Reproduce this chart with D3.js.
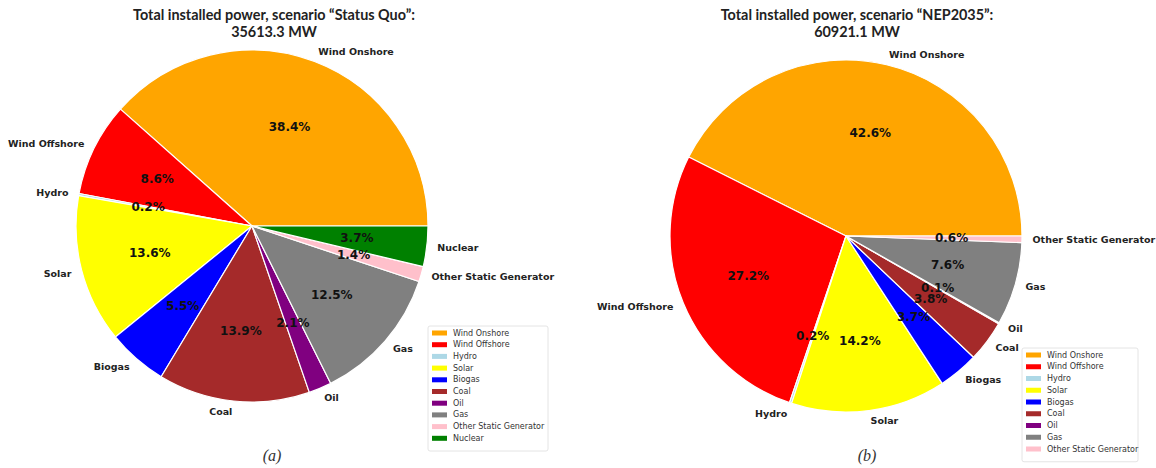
<!DOCTYPE html>
<html>
<head>
<meta charset="utf-8">
<script src="https://cdn.jsdelivr.net/npm/d3@7"></script>
<style>
  html, body { margin: 0; padding: 0; background: #fff; }
  svg { display: block; }
</style>
</head>
<body>
<svg id="chart" width="1156" height="468"></svg>
<script>
// Generation technologies and their colours (shared by both scenarios)
const categories = ["Wind Onshore", "Wind Offshore", "Hydro", "Solar", "Biogas", "Coal", "Oil", "Gas", "Other Static Generator", "Nuclear"];
const colors = ["#FFA500", "#FF0000", "#ADD8E6", "#FFFF00", "#0000FF", "#A52A2A", "#800080", "#808080", "#FFC0CB", "#008000"];

// Share of installed power per technology, in percent
const statusQuoShares = [38.4, 8.6, 0.2, 13.6, 5.5, 13.9, 2.1, 12.5, 1.4, 3.7];
const nep2035Shares   = [42.6, 27.2, 0.2, 14.2, 3.7, 3.8, 0.1, 7.6, 0.6];

// Panel titles and captions
const titlesA = ["Total installed power, scenario \u201CStatus Quo\u201D:", "35613.3 MW"];
const titlesB = ["Total installed power, scenario \u201CNEP2035\u201D:", "60921.1 MW"];
const captions = ["(a)", "(b)"];

const svg = d3.select("#chart");

function drawPanel(opts) {
  const { shares, cx, cy, r, titles, titleX, caption, captionX, legendX, legendY, legendW, legendRowH } = opts;
  const cats = categories.slice(0, shares.length);
  const data = cats.map((c, i) => ({ name: c, value: shares[i], color: colors[i] }));

  const g = svg.append("g");

  // Title (two lines)
  g.selectAll("text.title").data(titles).join("text")
    .attr("class", "title")
    .attr("x", titleX)
    .attr("y", (d, i) => 20 + i * 17)
    .attr("text-anchor", "middle")
    .attr("font-family", "Lato, 'Open Sans', sans-serif")
    .attr("font-weight", "bold")
    .attr("font-size", 14.4)
    .attr("fill", "#222")
    .text(d => d);

  // Counter-clockwise pie starting at 3 o'clock
  const pie = d3.pie().value(d => d.value).sort(null)
    .startAngle(Math.PI / 2).endAngle(Math.PI / 2 - 2 * Math.PI);
  const arcs = pie(data);
  const arc = d3.arc().innerRadius(0).outerRadius(r);
  const labelArc = d3.arc().innerRadius(r * 1.06).outerRadius(r * 1.06);
  const pctArc = d3.arc().innerRadius(r * 0.6).outerRadius(r * 0.6);

  const pg = g.append("g").attr("transform", `translate(${cx},${cy})`);
  pg.selectAll("path").data(arcs).join("path")
    .attr("d", arc)
    .attr("fill", d => d.data.color)
    .attr("stroke", "#fff")
    .attr("stroke-width", 1.2)
    .attr("stroke-linejoin", "round");

  // Category labels outside the pie
  pg.selectAll("text.lbl").data(arcs).join("text")
    .attr("class", "lbl")
    .attr("transform", d => `translate(${labelArc.centroid(d)})`)
    .attr("text-anchor", d => Math.sin((d.startAngle + d.endAngle) / 2) > 0 ? "start" : "end")
    .attr("dominant-baseline", "central")
    .attr("font-family", "'DejaVu Sans', sans-serif")
    .attr("font-weight", "bold")
    .attr("font-size", 9.5)
    .attr("fill", "#222")
    .text(d => d.data.name);

  // Percent labels inside the wedges
  pg.selectAll("text.pct").data(arcs).join("text")
    .attr("class", "pct")
    .attr("transform", d => `translate(${pctArc.centroid(d)})`)
    .attr("text-anchor", "middle")
    .attr("dominant-baseline", "central")
    .attr("font-family", "'DejaVu Sans', sans-serif")
    .attr("font-weight", "bold")
    .attr("font-size", 12)
    .attr("fill", "#111")
    .text(d => d3.format(".1f")(d.data.value) + "%");

  // Legend
  const lg = g.append("g").attr("transform", `translate(${legendX},${legendY})`);
  const legendH = data.length * legendRowH + 8;
  lg.append("rect")
    .attr("x", 0).attr("y", 0)
    .attr("width", legendW).attr("height", legendH)
    .attr("rx", 2)
    .attr("fill", "#fff")
    .attr("stroke", "#ddd")
    .attr("stroke-width", 0.8);
  const rows = lg.selectAll("g.row").data(data).join("g")
    .attr("class", "row")
    .attr("transform", (d, i) => `translate(0,${7 + i * legendRowH})`);
  rows.append("rect")
    .attr("x", 4).attr("y", -2.5)
    .attr("width", 15).attr("height", 5)
    .attr("fill", d => d.color);
  rows.append("text")
    .attr("x", 25).attr("y", 0)
    .attr("dominant-baseline", "central")
    .attr("font-family", "'DejaVu Sans', sans-serif")
    .attr("font-size", 8)
    .attr("fill", "#333")
    .text(d => d.name);

  // Caption
  g.append("text")
    .attr("x", captionX).attr("y", 461)
    .attr("text-anchor", "middle")
    .attr("font-family", "'Liberation Serif', serif")
    .attr("font-style", "italic")
    .attr("font-size", 16)
    .attr("fill", "#333")
    .text(caption);
}

drawPanel({
  shares: statusQuoShares, cx: 252, cy: 226, r: 176,
  titles: titlesA, titleX: 274, caption: captions[0], captionX: 272,
  legendX: 428, legendY: 326, legendW: 120, legendRowH: 11.7
});

drawPanel({
  shares: nep2035Shares, cx: 846, cy: 236, r: 176,
  titles: titlesB, titleX: 857, caption: captions[1], captionX: 867,
  legendX: 1022, legendY: 348, legendW: 116, legendRowH: 11.75
});
</script>
</body>
</html>
